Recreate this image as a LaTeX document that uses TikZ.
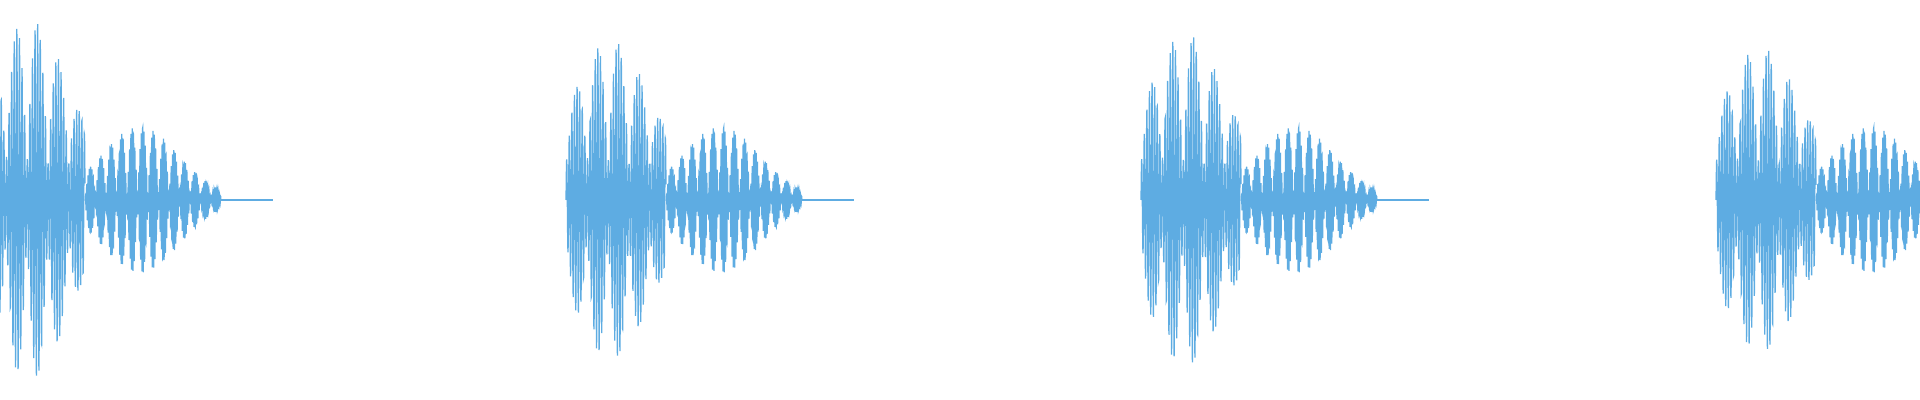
\documentclass[tikz,border=0pt]{standalone}
\usepackage{tikz}
\definecolor{wavecol}{HTML}{5EACE2}
\begin{document}
\begin{tikzpicture}[x=0.01cm,y=0.01cm]
\tikzstyle{wave}=[draw=wavecol,line width=0.35pt]
\useasboundingbox (0,0) rectangle (1920,400);
\clip (0,0) rectangle (1920,400);
\foreach \s/\amp in {-15/1.05, 566/0.9, 1141/0.95, 1716/0.85}
{
  \begin{scope}[shift={(\s,200)}]
  % loud head
  \draw[wave] plot[domain=0:100,samples=460]
    (\x,{(35+\amp*140*exp(-((\x-45)/50)*((\x-45)/50))*abs(sin(8.5714*\x)))*sin(360*frac(\x/2.6))});
  % beating middle
  \draw[wave] plot[domain=100:236,samples=1600]
    (\x,{(1.5+72*exp(-((\x-155)/55)*((\x-155)/55))*abs(sin(17.1429*(\x-100))))*sin(360*frac(\x/1.3))});
  % tail
  \draw[wave] (236,0) -- (288,0);
  \end{scope}
}
\end{tikzpicture}
\end{document}
